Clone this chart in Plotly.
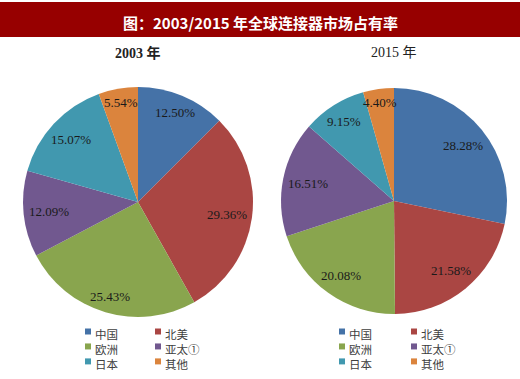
import math
import plotly.graph_objects as go

W, H = 520, 379

# ---- data ----
regions = ["中国", "北美", "欧洲", "亚太①", "日本", "其他"]
share_2003 = [12.50, 29.36, 25.43, 12.09, 15.07, 5.54]
share_2015 = [28.28, 21.58, 20.08, 16.51, 9.15, 4.40]
years = ["2003 年", "2015 年"]
colors = ["#4572A7", "#AA4643", "#89A54E", "#71588F", "#4198AF", "#DB843D"]
title_text = "图：2003/2015 年全球连接器市场占有率"

# ---- layout constants (pixels) ----
pies = [
    dict(name=years[0], values=share_2003, cx=138, cy=202, r=115, bold=True,
         leg_x=[85, 155]),
    dict(name=years[1], values=share_2015, cx=394, cy=201, r=113, bold=False,
         leg_x=[339, 411]),
]
leg_top_y = 331.5
leg_font = 11.5

def px(x):
    return x / W

def py(y):
    return 1 - y / H

fig = go.Figure()
annotations = []
shapes = []

# title bar
shapes.append(dict(type="rect", xref="paper", yref="paper", x0=0, x1=1,
                   y0=py(37), y1=py(2), fillcolor="#970000", line=dict(width=0),
                   layer="below"))
annotations.append(dict(text="<b>" + title_text + "</b>", x=0.5, y=py(22),
                        xref="paper", yref="paper", showarrow=False,
                        xanchor="center", yanchor="middle",
                        font=dict(family="Noto Sans CJK SC", size=15, color="white")))

for p in pies:
    cx, cy, r = p["cx"], p["cy"], p["r"]
    fig.add_trace(go.Pie(
        labels=regions, values=p["values"], sort=False, direction="clockwise",
        rotation=0, textinfo="none", hoverinfo="label+percent",
        marker=dict(colors=colors, line=dict(width=0)),
        domain=dict(x=[px(cx - r), px(cx + r)], y=[py(cy + r), py(cy - r)]),
        showlegend=False,
    ))
    # pie title
    t = "<b>" + p["name"] + "</b>" if p["bold"] else p["name"]
    annotations.append(dict(text=t, x=px(cx), y=py(53), xref="paper", yref="paper",
                            showarrow=False, xanchor="center", yanchor="middle",
                            font=dict(family="Liberation Serif, Noto Sans CJK SC",
                                      size=14, color="#222222")))
    # data labels (inside end)
    total = sum(p["values"])
    cum = 0.0
    for v in p["values"]:
        mid = (cum + v / 2) / total * 2 * math.pi
        cum += v
        label = f"{v:.2f}%"
        hw = len(label) * 3.3
        hh = 7
        d = 0.96 * r - (hw * abs(math.sin(mid)) + hh * abs(math.cos(mid)))
        lx = cx + d * math.sin(mid)
        ly = cy - d * math.cos(mid)
        annotations.append(dict(text=label, x=px(lx), y=py(ly), xref="paper",
                                yref="paper", showarrow=False, xanchor="center",
                                yanchor="middle",
                                font=dict(family="Liberation Serif", size=13,
                                          color="#1a1a1a")))
    # legend (two columns, three rows)
    step = leg_font * 1.3
    for c in range(2):
        colx = p["leg_x"][c]
        names = regions[c::2]
        cols = colors[c::2]
        for j, col in enumerate(cols):
            rowy = leg_top_y + j * step
            shapes.append(dict(type="rect", xref="paper", yref="paper",
                               x0=px(colx), x1=px(colx + 6), y0=py(rowy + 3),
                               y1=py(rowy - 3), fillcolor=col, line=dict(width=0)))
        annotations.append(dict(text="<br>".join(names), x=px(colx + 8),
                                y=py(leg_top_y - step / 2), xref="paper",
                                yref="paper", showarrow=False, xanchor="left",
                                yanchor="top", align="left",
                                font=dict(family="Noto Sans CJK SC", size=leg_font,
                                          color="#404040")))

fig.update_layout(
    width=W, height=H, margin=dict(l=0, r=0, t=0, b=0),
    paper_bgcolor="white", plot_bgcolor="white",
    annotations=annotations, shapes=shapes,
)

fig.write_html("out.html", config={"displayModeBar": False},
               post_script="document.body.style.margin='0';document.body.style.padding='0';")
